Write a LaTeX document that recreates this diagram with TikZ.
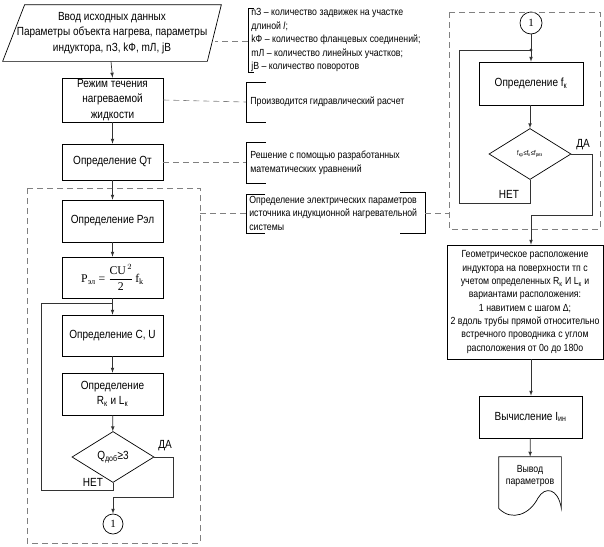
\documentclass[tikz,border=0pt]{standalone}
\usepackage{amsmath}
\usepackage{fontspec}
\setmainfont{Liberation Sans}[FakeStretch=0.85]
\newfontfamily\formfont{Liberation Serif}
\usetikzlibrary{shapes.geometric,arrows,calc}

\begin{document}
\begin{tikzpicture}[x=1pt, y=-1pt, >=latex]
	\tikzstyle{every node} = [rectangle, draw = black, line width = 0.7pt, align = center, inner sep = 1pt, font = \fontsize{11.8}{15.5}\selectfont]
	\tikzstyle{note} = [draw = none, anchor = west, align = left, font = \fontsize{10.3}{13.5}\selectfont]
	\tikzstyle{link} = [gray, line width = 0.6pt, dash pattern = on 6pt off 4pt]
	\tikzstyle{flow} = [->, line width = 0.7pt, black!80]
\useasboundingbox (0,0) rectangle (604,546);

% left column
\node[draw = none, minimum width = 200, minimum height = 56] (1) at (112,33) {Ввод исходных данных\\Параметры объекта нагрева, параметры\\индуктора, nЗ, kФ, mЛ, jВ};
\node[minimum width = 101, minimum height = 44] (2) at (112.5,100) {Режим течения\\нагреваемой\\жидкости};
\node[minimum width = 101, minimum height = 36] (3) at (112.5,162) {Определение Qт};
\node[minimum width = 101, minimum height = 42] (4) at (112.5,221) {Определение Рэл};
\node[minimum width = 101, minimum height = 41] (5) at (112.5,277.5) {\formfont P$_{\text{эл}}$ = $\dfrac{\text{CU}^{\,2}}{\text{2}}$\,f$_{\text{k}}$};
\node[minimum width = 101, minimum height = 41] (6) at (112.5,335.5) {Определение C, U};
\node[minimum width = 101, minimum height = 42] (7) at (112.5,394) {Определение\\R$_{\text{к}}$ и L$_{\text{к}}$};
\node[diamond, minimum width = 82, minimum height = 51, inner sep = 0pt] (8) at (113,457) {Q$_{\text{доб}}$≥3};
\node[circle, minimum size = 20, inner sep = 0pt, font = \formfont\fontsize{11}{13}\selectfont] (9) at (113,524) {1};

% right column
\node[circle, minimum size = 22, inner sep = 0pt, font = \formfont\fontsize{11}{13}\selectfont] (10) at (531,23) {1};
\node[minimum width = 104, minimum height = 43] (11) at (531,83.5) {Определение f$_{\text{к}}$};
\node[diamond, minimum width = 82, minimum height = 51, inner sep = 0pt, font = \fontsize{7}{8}\selectfont] (12) at (530,154) {f$_{\text{кр}}$≤f$_{\text{к}}$≤f$_{\text{рез}}$};
\node[minimum width = 156, minimum height = 114, font = \fontsize{10.3}{13.3}\selectfont] (13) at (525,302) {Геометрическое расположение\\индуктора на поверхности тп с\\учетом определенных R$_{\text{к}}$ И L$_{\text{к}}$ и\\вариантами расположения:\\1 навитием с шагом Δ;\\2 вдоль трубы прямой относительно\\встречного проводника с углом\\расположения от 0о до 180о};
\node[minimum width = 103, minimum height = 42] (14) at (530.5,417) {Вычисление I$_{\text{ин}}$};
\node[draw = none, minimum width = 62, minimum height = 38, font = \fontsize{10.3}{12.5}\selectfont] (15) at (530,476) {Вывод\\параметров};

% notes
\node[note] (a1) at (250,40) {nЗ – количество задвижек на участке\\длиной \textit{l};\\kФ – количество фланцевых соединений;\\mЛ – количество линейных участков;\\jВ – количество поворотов};
\node[note] (a2) at (249,102) {Производится гидравлический расчет};
\node[note] (a3) at (249,163) {Решение с помощью разработанных\\математических уравнений};
\node[note] (a4) at (248,213) {Определение электрических параметров\\источника индукционной нагревательной\\системы};

% shapes
\draw[line width = 0.7pt] ($(1.north west)+(13,0)$) -- ($(1.north east)+(9,0)$) -- ($(1.south east)+(-5,0)$) -- ($(1.south west)+(-9,0)$) -- cycle;
\draw[line width = 0.7pt] (15.north west) -- (15.north east) -- ($(15.south east)+(0,13)$)
	.. controls (558,488) and (545,486) .. (538,498)
	.. controls (530,514) and (512,522) .. ($(15.south west)+(0,13)$) -- cycle;

% brackets
\draw[line width = 0.6pt] (254,8) -- (248,8) -- (248,72) -- (254,72);
\draw[line width = 0.6pt] (266,82) -- (246,82) -- (246,122) -- (266,122);
\draw[line width = 0.6pt] (266,142) -- (246,142) -- (246,183) -- (266,183);
\draw[line width = 0.6pt] (265,194) -- (246,194) -- (246,233) -- (265,233);
\draw[line width = 0.6pt] (400,192) -- (425,192) -- (425,233) -- (400,233);

% dashed frames
\draw[link] (27,188) rectangle (200,543);
\draw[link] (449,12) rectangle (600,229);
\coordinate (b1) at (248,41);
\coordinate (b2) at (246,102);
\coordinate (b3) at (246,162);
\coordinate (b4) at (425,213);
\draw[link] (b1) -- ++(-33,0);
\draw[link] (2.east) -- (b2);
\draw[link] (3.east) -- (b3);
\draw[link] (200,213) -- (246,213);
\draw[link] (b4) -- (449,213);

% flow left
\draw[flow] (1.south) ++(-1,0) -- (2.north);
\draw[flow] (2) -- (3);
\draw[flow] (3) -- (4);
\draw[flow] (4) -- (5);
\draw[flow] (5) -- (6);
\draw[flow] (6) -- (7);
\draw[flow] (7) -- (8);
\coordinate (j1) at (112.5,303);
\draw[line width = 0.7pt, black!80] (8.south) -- ++(0,7) -| (41,303) -- (j1);
\draw[flow] (8.east) -- ++(19,0) |- (113,497) -- (9.north);
\node[draw = none] (n1) at (93,482) {НЕТ};
\node[draw = none] (y1) at (165,446) {ДА};

% flow right
\coordinate (j2) at (531,50);
\coordinate (j3) at (531,215);
\draw[line width = 0.7pt, black!80] (10) -- (j2);
\draw[flow] (j2) -- (11.north);
\fill[black!80] (j2) circle (1.6pt);
\draw[flow] (11.south -| 12.north) -- (12.north);
\draw[line width = 0.7pt, black!80] (12.south) -- ++(0,23) -| (459,50) -- (j2);
\draw[line width = 0.7pt, black!80] (12.east) -- (592,154) |- (j3);
\draw[flow] (j3) -- (j3 |- 13.north);
\draw[flow] (j3 |- 13.south) -- (j3 |- 14.north);
\draw[flow] (14) -- (15);
\node[draw = none] (n2) at (509,194) {НЕТ};
\node[draw = none] (y2) at (583,145) {ДА};
\end{tikzpicture}
\end{document}
